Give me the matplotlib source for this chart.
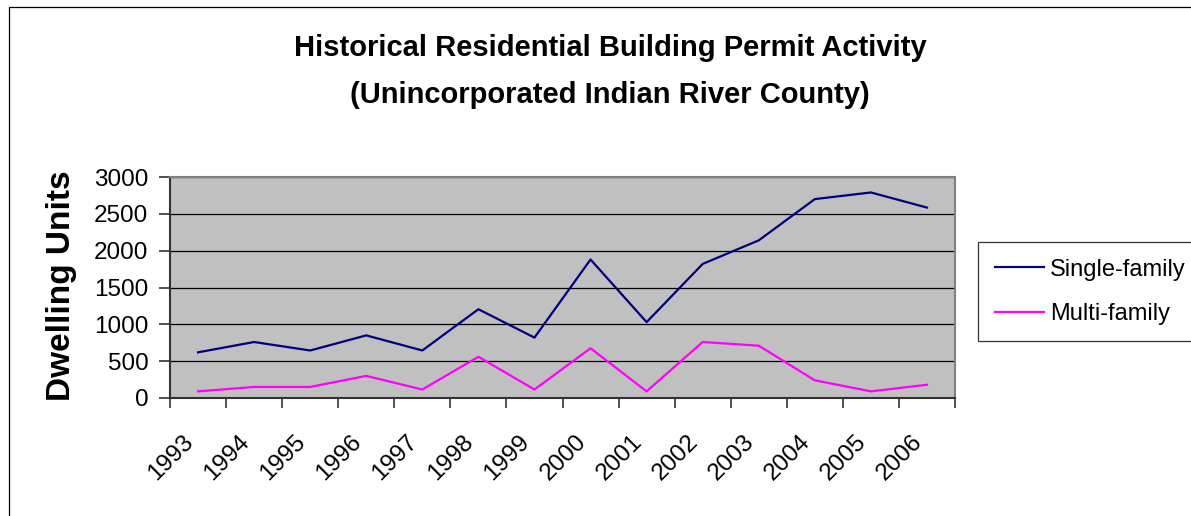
import matplotlib
matplotlib.use("Agg")
import matplotlib.pyplot as plt
from matplotlib.patches import Rectangle
from matplotlib.transforms import ScaledTranslation

plt.rcParams['font.family'] = ['Liberation Sans', 'DejaVu Sans']

years = ['1993', '1994', '1995', '1996', '1997', '1998', '1999',
         '2000', '2001', '2002', '2003', '2004', '2005', '2006']
single_family = [620, 760, 645, 850, 645, 1205, 820,
                 1880, 1030, 1820, 2140, 2700, 2790, 2585]
multi_family = [90, 150, 150, 300, 115, 560, 115,
                675, 90, 760, 710, 240, 90, 180]

W, H = 1191, 516
fig = plt.figure(figsize=(W / 100, H / 100), dpi=100)

# outer chart border (runs off the right and bottom edge)
fig.patches.append(Rectangle((9 / W, -0.2), 1.2, 1.2 - 7 / H, transform=fig.transFigure,
                             fill=False, edgecolor='black', linewidth=0.9))

ax = fig.add_axes([170 / W, 1 - 398 / H, 785 / W, 221 / H])
ax.set_facecolor('#C0C0C0')

x = list(range(len(years)))
ax.plot(x, single_family, color='#000080', linewidth=1.6, label='Single-family')
ax.plot(x, multi_family, color='#FF00FF', linewidth=1.6, label='Multi-family')

ax.set_xlim(-0.5, len(years) - 0.5)
ax.set_ylim(0, 3000)
ax.set_yticks(range(0, 3001, 500))
ax.yaxis.grid(True, color='black', linewidth=0.9)
ax.set_axisbelow(True)

# ticks at category boundaries, labels at centres
ax.set_xticks([i - 0.5 for i in range(len(years) + 1)])
ax.set_xticklabels([])
ax.set_xticks(x, minor=True)
ax.set_xticklabels(years, minor=True, rotation=45, ha='right', va='center',
                   rotation_mode='anchor', fontsize=17.5)
ax.tick_params(axis='x', which='minor', length=0, pad=29)
ax.tick_params(axis='x', which='major', length=7, width=1.2, color='#333333')
ax.tick_params(axis='y', length=8, width=1.2, color='#333333', labelsize=17.5, pad=7.5)
for lab in ax.get_xticklabels(minor=True):
    lab.set_transform(lab.get_transform() + ScaledTranslation(-0.08, 0, fig.dpi_scale_trans))

for s in ['top', 'right']:
    ax.spines[s].set_color('#808080')
    ax.spines[s].set_linewidth(1.5)
for s in ['left', 'bottom']:
    ax.spines[s].set_color('#333333')
    ax.spines[s].set_linewidth(1.5)

fig.text(610 / W, 1 - 48 / H, 'Historical Residential Building Permit Activity',
         ha='center', va='center', fontsize=21, fontweight='bold')
fig.text(610 / W, 1 - 95 / H, '(Unincorporated Indian River County)',
         ha='center', va='center', fontsize=21, fontweight='bold')
fig.text(62 / W, 1 - 286 / H, 'Dwelling Units', rotation=90,
         ha='center', va='center', fontsize=24, fontweight='bold')

leg = fig.legend(loc='upper left', bbox_to_anchor=(978 / W, 1 - 242 / H),
                 fontsize=17, frameon=True, fancybox=False, handlelength=2.1,
                 handletextpad=0.25, borderpad=0.7, labelspacing=0.95,
                 borderaxespad=0)
leg.get_frame().set_edgecolor('black')
leg.get_frame().set_linewidth(0.9)

fig.savefig('out.png', dpi=100)
